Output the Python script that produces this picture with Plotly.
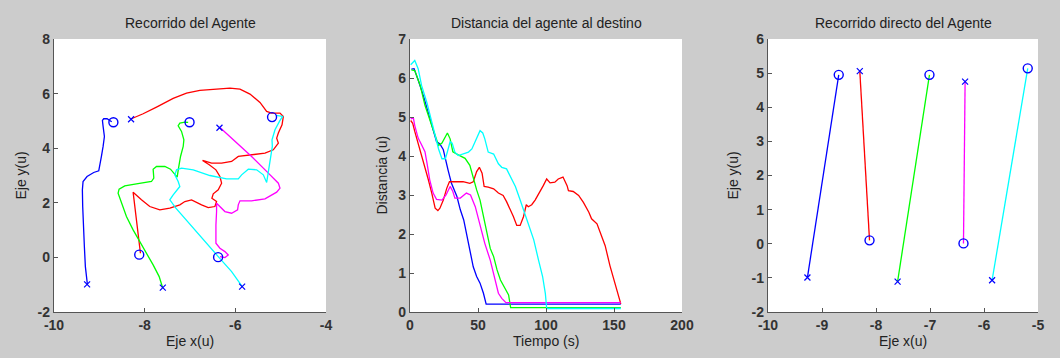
import plotly.graph_objects as go

# ---------------- data ----------------
colors = ["#0000ff", "#ff0000", "#00ff00", "#ff00ff", "#00ffff"]
agents = ["azul", "rojo", "verde", "magenta", "cian"]

# start points (x markers) and goal points (o markers)
start_x = [-9.27, -8.30, -7.60, -6.35, -5.85]
start_y = [-0.99, 5.06, -1.11, 4.75, -1.07]
goal_x = [-8.69, -8.12, -7.01, -6.38, -5.19]
goal_y = [4.95, 0.10, 4.95, 0.01, 5.14]

# agent paths (subplot 1)
blue_x = [-9.264, -9.308, -9.330, -9.352, -9.367, -9.374, -9.359, -9.271, -9.124, -9.013,
          -8.991, -8.954, -8.917, -8.888, -8.917, -8.932, -8.903, -8.829, -8.770, -8.726]
blue_y = [-0.985, -0.337, 0.396, 1.130, 1.863, 2.474, 2.780, 2.963, 3.110, 3.171,
          3.330, 3.697, 4.064, 4.430, 4.797, 5.017, 5.078, 5.078, 5.017, 4.968]

red_x = [-8.292, -8.034, -7.739, -7.371, -7.077, -6.782, -6.414, -6.119, -5.898, -5.677,
         -5.456, -5.309, -5.199, -5.015, -4.941, -4.970, -5.051, -5.088, -5.051, -5.162,
         -5.346, -5.641, -5.935, -6.082, -6.303, -6.524, -6.723, -6.576, -6.428, -6.340,
         -6.303, -6.377, -6.487, -6.517, -6.414, -6.451, -6.598, -6.745, -6.966, -7.113,
         -7.224, -7.445, -7.666, -7.887, -8.071, -8.255, -8.218, -8.181, -8.144, -8.107, -8.093]
red_y = [5.078, 5.262, 5.506, 5.824, 6.020, 6.117, 6.166, 6.203, 6.166, 5.983,
         5.677, 5.347, 5.286, 5.286, 5.164, 4.858, 4.553, 4.369, 4.186, 3.941,
         3.819, 3.758, 3.697, 3.513, 3.452, 3.452, 3.550, 3.391, 3.208, 2.963,
         2.719, 2.474, 2.328, 2.169, 2.047, 1.863, 1.826, 1.924, 2.108, 2.047,
         1.924, 1.802, 1.741, 1.863, 2.108, 2.389, 1.863, 1.435, 0.885, 0.457, 0.152]

green_x = [-7.607, -7.680, -7.813, -7.960, -8.107, -8.255, -8.402, -8.512, -8.586, -8.564,
           -8.439, -8.181, -7.850, -7.798, -7.813, -7.739, -7.555, -7.430, -7.334, -7.283,
           -7.253, -7.209, -7.150, -7.135, -7.187, -7.261, -7.224, -7.113, -7.040]
green_y = [-1.095, -0.704, -0.276, 0.152, 0.579, 1.007, 1.496, 1.985, 2.352, 2.499,
           2.621, 2.694, 2.780, 2.902, 3.232, 3.330, 3.330, 3.232, 3.061, 2.939,
           3.269, 3.697, 4.064, 4.308, 4.614, 4.822, 4.919, 4.956, 4.944]

magenta_x = [-6.340, -6.009, -5.641, -5.272, -5.051, -5.015, -5.088, -5.346, -5.641, -5.898,
             -5.935, -5.950, -6.082, -6.230, -6.340, -6.414, -6.414, -6.428, -6.428, -6.340,
             -6.230, -6.156, -6.230, -6.340]
magenta_y = [4.760, 4.247, 3.697, 3.086, 2.719, 2.535, 2.389, 2.144, 2.071, 2.071,
             1.924, 1.741, 1.619, 1.680, 1.863, 1.985, 1.680, 1.191, 0.518, 0.335,
             0.213, 0.090, -0.007, 0.029]

cyan_x = [-5.847, -6.082, -6.377, -6.635, -6.892, -7.150, -7.312, -7.445, -7.371, -7.224,
          -7.261, -7.334, -7.297, -7.187, -6.929, -6.561, -6.193, -5.935, -5.861, -5.714,
          -5.530, -5.383, -5.309, -5.265, -5.220, -5.184, -5.191, -5.125, -5.015, -4.956, -5.100]
cyan_y = [-1.071, -0.521, 0.029, 0.518, 1.032, 1.521, 1.802, 2.108, 2.291, 2.597,
          2.780, 3.024, 3.208, 3.269, 3.208, 3.000, 2.878, 2.878, 3.024, 3.232,
          3.208, 3.024, 2.743, 3.208, 3.697, 4.064, 4.308, 4.675, 5.017, 5.164, 5.200]

# distance to goal over time (subplot 2)
blue_t = [1, 3, 6, 10, 13.5, 17, 19.5, 22, 24.5, 28, 30.5, 34.5, 37, 39.5, 41.5, 44, 46.5, 49, 51.5, 54, 56, 155]
blue_d = [6.23, 6.24, 5.95, 5.53, 5.10, 4.63, 4.37, 4.31, 4.16, 3.64, 3.30, 2.96, 2.62, 2.36, 2.02, 1.51, 1.16, 0.91, 0.74, 0.48, 0.20, 0.20]

green_t = [1, 3.5, 7.5, 11, 16, 21, 23.5, 26, 27.5, 29.5, 31.5, 35.5, 40.5, 44, 46.5, 49, 51.5, 54, 56.5, 59, 61.5, 64, 66.5, 70, 72.5, 74, 155]
green_d = [6.21, 6.19, 5.81, 5.30, 4.78, 4.27, 4.33, 4.50, 4.59, 4.44, 4.11, 4.03, 3.94, 3.76, 3.41, 3.13, 2.87, 2.45, 2.02, 1.63, 1.42, 1.08, 0.82, 0.61, 0.44, 0.11, 0.11]

cyan_t = [0.5, 3.5, 6, 8.5, 12.5, 16, 21, 23.5, 26, 27.5, 29.5, 31, 33, 35.5, 43, 45.5, 49, 51.5, 53.5, 55, 57.5, 61.5,
          65, 67.5, 71, 73.5, 77.5, 81, 86, 91, 94.5, 97.5, 99.5, 100.5, 155]
cyan_d = [6.34, 6.45, 6.24, 5.81, 5.36, 4.84, 4.18, 3.93, 3.93, 4.11, 4.37, 4.33, 4.10, 4.01, 4.10, 4.18, 4.48, 4.65, 4.59, 4.44, 4.10, 4.05,
          3.80, 3.71, 3.67, 3.50, 3.22, 2.87, 2.36, 1.85, 1.33, 0.91, 0.48, 0.09, 0.09]

magenta_t = [0.5, 2.5, 3.5, 6, 8.5, 11, 12.5, 14.5, 17, 19.5, 23.5, 26.5, 29.5, 31.5, 33, 37, 41.5, 44.5, 48, 51.5, 55, 59, 62.5, 65, 67.5, 70.5, 155]
magenta_d = [4.95, 4.97, 4.78, 4.46, 4.29, 4.11, 3.82, 3.39, 3.05, 2.89, 2.87, 3.00, 3.22, 3.09, 2.92, 2.92, 3.05, 3.00, 2.70, 2.19, 1.76, 1.33, 0.82, 0.48, 0.35, 0.24, 0.24]

red_t = [0.5, 2, 3.5, 6, 8.5, 11, 13.5, 16, 18.5, 20.5, 22, 24.5, 27, 29, 33, 39, 44, 46.5, 49, 51, 53, 54.5, 57.5, 61.5, 65, 68.5, 71, 73.5, 76, 78.5, 81,
         83.5, 85.5, 87, 89.5, 92, 95.5, 98, 100.5, 103, 106.5, 109, 112.5, 115.5, 116.5, 120, 124, 127.5, 131.5, 133.5, 137.5, 140, 143.5, 147, 151, 155]
red_d = [4.91, 4.84, 4.63, 4.33, 3.99, 3.69, 3.39, 3.05, 2.66, 2.60, 2.66, 2.87, 3.17, 3.34, 3.34, 3.34, 3.30, 3.34, 3.60, 3.71, 3.56, 3.22, 3.20, 3.16, 3.05, 2.99, 2.83, 2.66, 2.45, 2.22, 2.22,
         2.45, 2.75, 2.70, 2.75, 2.87, 3.07, 3.24, 3.41, 3.31, 3.33, 3.41, 3.46, 3.24, 3.11, 3.09, 2.99, 2.81, 2.56, 2.39, 2.26, 2.04, 1.70, 1.19, 0.68, 0.21]

# tick labels
x1_ticks = [-10, -8, -6, -4]
y1_ticks = [-2, 0, 2, 4, 6, 8]
x2_ticks = [0, 50, 100, 150, 200]
y2_ticks = [0, 1, 2, 3, 4, 5, 6, 7]
x3_ticks = [-10, -9, -8, -7, -6, -5]
y3_ticks = [-2, -1, 0, 1, 2, 3, 4, 5, 6]

titles = ["Recorrido del Agente", "Distancia del agente al destino", "Recorrido directo del Agente"]
xlabels = ["Eje x(u)", "Tiempo (s)", "Eje x(u)"]
ylabels = ["Eje y(u)", "Distancia (u)", "Eje y(u)"]

# ---------------- figure ----------------
W, H = 1060, 358
FONT = "Liberation Sans, Arial, sans-serif"
BLUE = "#0000ff"
fig = go.Figure()

x_marker = dict(symbol="x-thin-open", size=6, color=BLUE, line=dict(color=BLUE, width=1.2))
o_marker = dict(symbol="circle-open", size=9, color=BLUE, line=dict(color=BLUE, width=1.4))

paths = [(blue_x, blue_y), (red_x, red_y), (green_x, green_y), (magenta_x, magenta_y), (cyan_x, cyan_y)]
for (px, py), c in zip(paths, colors):
    fig.add_trace(go.Scatter(x=px, y=py, mode="lines", line=dict(color=c, width=1.3),
                             xaxis="x", yaxis="y", showlegend=False))
fig.add_trace(go.Scatter(x=start_x, y=start_y, mode="markers", marker=x_marker,
                         xaxis="x", yaxis="y", showlegend=False))
fig.add_trace(go.Scatter(x=goal_x, y=goal_y, mode="markers", marker=o_marker,
                         xaxis="x", yaxis="y", showlegend=False))

dists = [(blue_t, blue_d), (red_t, red_d), (green_t, green_d), (magenta_t, magenta_d), (cyan_t, cyan_d)]
for (tt, dd), c in zip(dists, colors):
    fig.add_trace(go.Scatter(x=tt, y=dd, mode="lines", line=dict(color=c, width=1.3),
                             xaxis="x2", yaxis="y2", showlegend=False))

for i, c in enumerate(colors):
    fig.add_trace(go.Scatter(x=[start_x[i], goal_x[i]], y=[start_y[i], goal_y[i]], mode="lines",
                             line=dict(color=c, width=1.3), xaxis="x3", yaxis="y3", showlegend=False))
fig.add_trace(go.Scatter(x=start_x, y=start_y, mode="markers", marker=x_marker,
                         xaxis="x3", yaxis="y3", showlegend=False))
fig.add_trace(go.Scatter(x=goal_x, y=goal_y, mode="markers", marker=o_marker,
                         xaxis="x3", yaxis="y3", showlegend=False))

ytop, ybot = 1 - 39 / H, 1 - 312 / H
domains = [(54 / W, 326 / W), (410 / W, 682 / W), (768 / W, 1038 / W)]

def ax(domain, rng, ticks, anchor):
    return dict(domain=list(domain), range=rng, tickvals=ticks, ticktext=[str(t) for t in ticks],
                showline=True, linecolor="#555555", linewidth=1.3, mirror=False,
                ticks="inside", ticklen=4, tickcolor="#555555", tickwidth=1,
                showgrid=False, zeroline=False, anchor=anchor, automargin=False,
                tickfont=dict(family=FONT, size=14, color="#333333", weight="bold"), fixedrange=True)

fig.update_layout(
    width=W, height=H,
    margin=dict(l=0, r=0, t=0, b=0, pad=0),
    paper_bgcolor="#cccccc", plot_bgcolor="#ffffff",
    xaxis=ax(domains[0], [-10, -4], x1_ticks, "y"),
    yaxis=ax((ybot, ytop), [-2, 8], y1_ticks, "x"),
    xaxis2=ax(domains[1], [0, 200], x2_ticks, "y2"),
    yaxis2=ax((ybot, ytop), [0, 7], y2_ticks, "x2"),
    xaxis3=ax(domains[2], [-10, -5], x3_ticks, "y3"),
    yaxis3=ax((ybot, ytop), [-2, 6], y3_ticks, "x3"),
    showlegend=False,
)

ann = []
ylab_x = [21, 382, 733]
for i in range(3):
    cx = (domains[i][0] + domains[i][1]) / 2
    ann.append(dict(text=titles[i], x=cx, y=1 - 23 / H, xref="paper", yref="paper",
                    xanchor="center", yanchor="middle", showarrow=False,
                    font=dict(family=FONT, size=14, color="#222222")))
    ann.append(dict(text=xlabels[i], x=cx, y=1 - 341 / H, xref="paper", yref="paper",
                    xanchor="center", yanchor="middle", showarrow=False,
                    font=dict(family=FONT, size=14, color="#222222")))
    ann.append(dict(text=ylabels[i], x=ylab_x[i] / W, y=(ytop + ybot) / 2, xref="paper", yref="paper",
                    xanchor="center", yanchor="middle", showarrow=False, textangle=-90,
                    font=dict(family=FONT, size=14, color="#222222")))
fig.update_layout(annotations=ann)

fig.write_html("out.html", post_script="document.body.style.margin='0';document.body.style.padding='0';")
